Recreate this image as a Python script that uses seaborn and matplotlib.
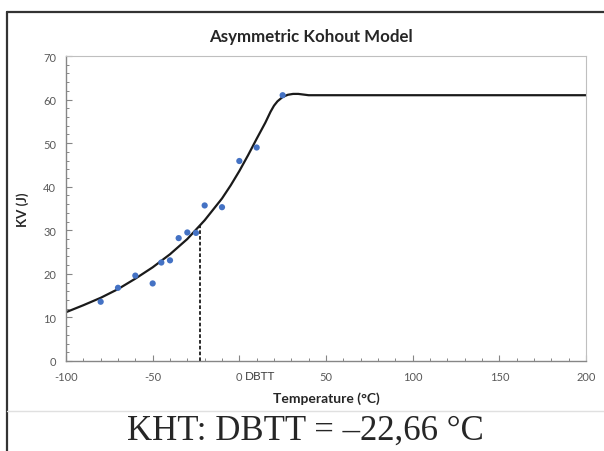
import numpy as np
import pandas as pd
import seaborn as sns
import matplotlib.pyplot as plt
from matplotlib.lines import Line2D
from matplotlib.ticker import MultipleLocator

# measured Charpy points
temp = [-80, -70, -60, -50, -45, -40, -35, -30, -25, -20, -10, 0, 10, 25]
kv = [13.6, 16.8, 19.6, 17.8, 22.6, 23.1, 28.2, 29.5, 29.4, 35.7, 35.3, 45.9, 49.0, 61.0]

# fitted asymmetric Kohout curve
curve_t = [-100, -90, -80, -70, -60, -50, -40, -30, -20, -10, -5, 0, 5, 10, 15,
           18, 20, 22, 25, 28, 31, 34, 37, 40, 50, 100, 150, 200]
curve_kv = [11.2, 12.8, 14.5, 16.5, 18.9, 21.5, 24.5, 28.0, 32.3, 37.3, 40.3, 43.6, 47.2, 51.0, 54.7,
            57.2, 58.6, 59.6, 60.6, 61.1, 61.3, 61.3, 61.15, 61.0, 61.0, 61.0, 61.0, 61.0]

dbtt = -22.66
dbtt_kv = 31.3

x_ticks = [-100, -50, 0, 50, 100, 150, 200]
x_labels = ['-100', '-50', '0', '50', '100', '150', '200']
y_ticks = [0, 10, 20, 30, 40, 50, 60, 70]

sns.set_style('white')
plt.rcParams['font.family'] = ['Lato', 'DejaVu Sans']

pts = pd.DataFrame({'t': temp, 'kv': kv})
fit = pd.DataFrame({'t': curve_t, 'kv': curve_kv})

fig = plt.figure(figsize=(6.04, 4.52), dpi=100)
ax = fig.add_axes([66 / 604, 90 / 452, 520 / 604, 305 / 452])

sns.lineplot(data=fit, x='t', y='kv', color='#1a1a1a', linewidth=1.6, sort=False,
             estimator=None, ax=ax, zorder=2)
sns.scatterplot(data=pts, x='t', y='kv', color='#4472C4', s=20, edgecolor='none',
                ax=ax, zorder=3)
ax.vlines(dbtt, 0, dbtt_kv, colors='#1a1a1a', linestyles=(0, (2, 1.2)), linewidth=1.3, zorder=2)

ax.set_xlim(-100, 200)
ax.set_ylim(0, 70)
ax.set_xticks(x_ticks)
ax.set_xticklabels(x_labels)
ax.set_yticks(y_ticks)
ax.xaxis.set_minor_locator(MultipleLocator(10))
ax.yaxis.set_minor_locator(MultipleLocator(2))
ax.tick_params(which='major', direction='in', length=4, width=0.8, color='#868686',
               labelsize=8, labelcolor='#595959', pad=7)
ax.tick_params(which='minor', direction='in', length=2.5, width=0.7, color='#868686')
ax.tick_params(axis='x', bottom=True, which='both')
ax.tick_params(axis='y', left=True, which='both')

ax.annotate('DBTT', xy=(0, 0), xycoords=('data', 'axes fraction'), xytext=(4, -6.5),
            textcoords='offset points', ha='left', va='top', fontsize=8.5, color='#404040')

for s in ['bottom', 'left']:
    ax.spines[s].set_color('#868686')
    ax.spines[s].set_linewidth(1.0)
for s in ['top', 'right']:
    ax.spines[s].set_color('#bfbfbf')
    ax.spines[s].set_linewidth(0.8)

ax.set_xlabel('Temperature (°C)', fontsize=10, fontweight='bold', labelpad=7)
ax.set_ylabel('KV (J)', fontsize=9.5, fontweight='bold', labelpad=10)
fig.text(311 / 604, 1 - 37 / 452, 'Asymmetric Kohout Model', ha='center', va='center',
         fontsize=12.2, fontweight='bold')

fig.text(305 / 604, 1 - 431 / 452, 'KHT: DBTT = \u201322,66 \u00b0C', ha='center', va='center',
         fontsize=25, family=['Liberation Serif', 'DejaVu Serif'])

# outer frame and separator
fig.add_artist(Line2D([7 / 604, 7 / 604], [0, 1 - 13 / 452], transform=fig.transFigure,
                      color='#333333', linewidth=1.6))
fig.add_artist(Line2D([7 / 604, 1], [1 - 13 / 452, 1 - 13 / 452], transform=fig.transFigure,
                      color='#333333', linewidth=1.6))
fig.add_artist(Line2D([7 / 604, 1], [1 - 411.5 / 452, 1 - 411.5 / 452], transform=fig.transFigure,
                      color='#e0e0e0', linewidth=1.0))

fig.savefig('out.png', dpi=100)
